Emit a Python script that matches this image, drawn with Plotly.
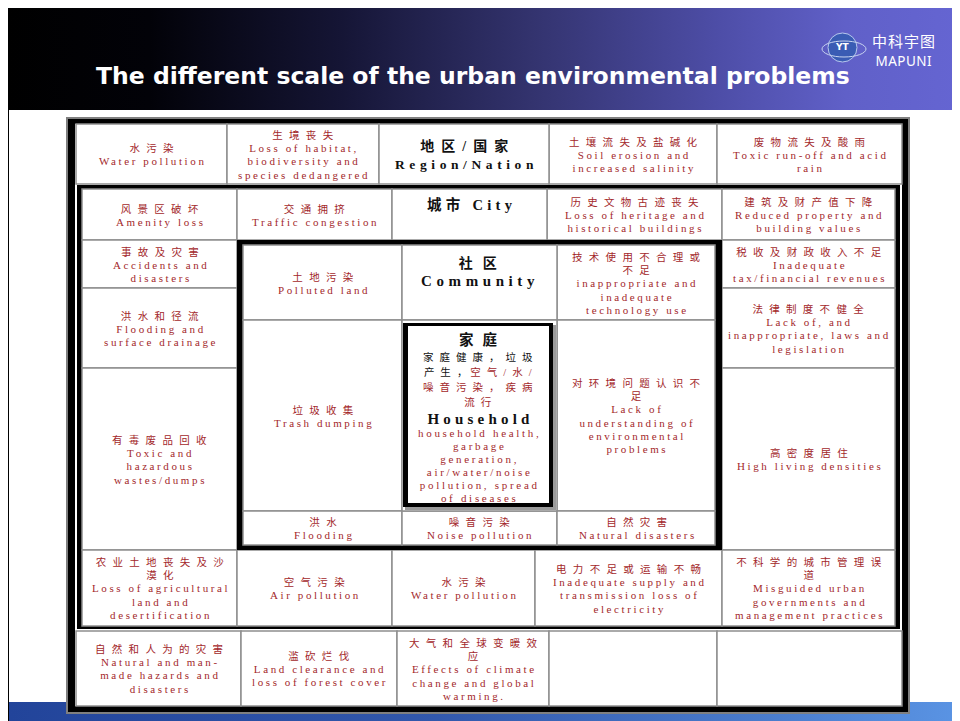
import plotly.graph_objects as go

# ---------------- text data ----------------
title_text = "The different scale of the urban environmental problems"
logo_cn = "中科宇图"
logo_en = "MAPUNI"
logo_mark = "YT"

region_header = ["地区/国家", "Region/Nation"]
city_header = "城市 City"
community_header = ["社区", "Community"]
household_header = ["家庭", "Household"]

region_cn = [["水污染"], ["生境丧失"], ["土壤流失及盐碱化"], ["废物流失及酸雨"],
             ["自然和人为的灾害"], ["滥砍烂伐"], ["大气和全球变暖效", "应"], [], []]
region_en = [["Water pollution"],
             ["Loss of habitat,", "biodiversity and", "species dedangered"],
             ["Soil erosion and", "increased salinity"],
             ["Toxic run-off and acid", "rain"],
             ["Natural and man-", "made hazards and", "disasters"],
             ["Land clearance and", "loss of forest cover"],
             ["Effects of climate", "change and global", "warming."], [], []]

city_cn = [["风景区破坏"], ["交通拥挤"], ["历史文物古迹丧失"], ["建筑及财产值下降"],
           ["事故及灾害"], ["洪水和径流"], ["有毒废品回收"],
           ["税收及财政收入不足"], ["法律制度不健全"], ["高密度居住"],
           ["农业土地丧失及沙", "漠化"], ["空气污染"], ["水污染"], ["电力不足或运输不畅"],
           ["不科学的城市管理误", "道"]]
city_en = [["Amenity loss"], ["Traffic congestion"],
           ["Loss of heritage and", "historical buildings"],
           ["Reduced property and", "building values"],
           ["Accidents and", "disasters"], ["Flooding and", "surface drainage"],
           ["Toxic and", "hazardous", "wastes/dumps"],
           ["Inadequate", "tax/financial revenues"],
           ["Lack of, and", "inappropriate, laws and", "legislation"],
           ["High living densities"],
           ["Loss of agricultural", "land and", "desertification"],
           ["Air pollution"], ["Water pollution"],
           ["Inadequate supply and", "transmission loss of", "electricity"],
           ["Misguided urban", "governments and", "management practices"]]

community_cn = [["土地污染"], ["技术使用不合理或", "不足"], ["垃圾收集"], ["对环境问题认识不", "足"],
                ["洪水"], ["噪音污染"], ["自然灾害"]]
community_en = [["Polluted land"], ["inappropriate and", "inadequate", "technology use"],
                ["Trash dumping"], ["Lack of", "understanding of", "environmental", "problems"],
                ["Flooding"], ["Noise pollution"], ["Natural disasters"]]

household_cn_black = ["家庭健康，垃圾", "产生，", "", ""]
household_cn_red = ["", "空气/水/", "噪音污染，疾病", "流行"]
household_en = ["household health,", "garbage", "generation,", "air/water/noise",
                "pollution, spread", "of diseases"]

# ---------------- layout geometry (page pixels) ----------------
region_boxes = [(76, 124, 227, 184), (227, 124, 379, 184), (549, 124, 717, 184), (717, 124, 902, 184),
                (76, 631, 241, 706), (241, 631, 397, 706), (397, 631, 549, 706), (549, 631, 717, 706),
                (717, 631, 902, 706)]
region_header_box = (379, 124, 549, 184)
city_boxes = [(82, 189, 237, 240), (237, 189, 392, 240), (547, 189, 722, 240), (722, 189, 895, 240),
              (82, 240, 237, 288), (82, 288, 237, 368), (82, 368, 237, 550),
              (722, 240, 895, 288), (722, 288, 895, 368), (722, 368, 895, 550),
              (82, 550, 237, 626), (237, 550, 392, 626), (392, 550, 535, 626), (535, 550, 722, 626),
              (722, 550, 895, 626)]
city_header_box = (392, 189, 547, 240)
community_boxes = [(243, 245, 402, 320), (557, 245, 715, 320), (243, 320, 402, 511), (557, 320, 715, 511),
                   (243, 511, 402, 545), (402, 511, 557, 545), (557, 511, 715, 545)]
community_header_box = (402, 245, 557, 320)
household_cell = (402, 320, 557, 511)

W, H = 960, 721
OFF = 8  # default page body margin
RED = "#a3282b"
BLACK = "#111111"
CELL_LINE = "#8e8e8e"
FONT = "Liberation Serif, Noto Sans CJK SC, serif"
EN_SP, EN_FS = 2.6, 11
CN_SP, CN_FS = 6.3, 10.5
PITCH = 13.2

fig = go.Figure()

# header gradient band
fig.add_trace(go.Scatter(
    x=[7, 960, 960, 7, 7], y=[7, 7, 110, 110, 7], mode="lines", fill="toself",
    line=dict(width=0), hoverinfo="skip", showlegend=False,
    fillgradient=dict(type="horizontal",
                      colorscale=[[0, "#000000"], [0.15, "#020208"], [0.35, "#151535"],
                                  [0.55, "#33336e"], [0.75, "#4e4ea8"], [0.88, "#6060c8"],
                                  [1, "#6565d2"]])))
# bottom gradient band
fig.add_trace(go.Scatter(
    x=[9, 960, 960, 9, 9], y=[702, 702, 721, 721, 702], mode="lines", fill="toself",
    line=dict(width=0), hoverinfo="skip", showlegend=False,
    fillgradient=dict(type="horizontal",
                      colorscale=[[0, "#22449a"], [0.45, "#3258ac"], [0.8, "#4a7ccc"],
                                  [1, "#5a94e4"]])))

shapes = []


def rect(x0, y0, x1, y1, fill, line_color=None, lw=0):
    shapes.append(dict(type="rect", xref="x", yref="y", x0=x0, y0=y0, x1=x1, y1=y1,
                       fillcolor=fill, line=dict(width=lw, color=line_color or fill)))


def frame(outer, inner):
    rect(*outer, "#000000")
    rect(*inner, "#ffffff")


def cell(box):
    rect(*box, "#ffffff", CELL_LINE, 1.5)


rect(7, 110, 9, 721, "#000000")
rect(66, 117, 910, 714, "#7f7f7f")
frame((68, 119, 908, 712), (75, 124, 902, 706))
for b in region_boxes + [region_header_box]:
    cell(b)
frame((77, 185, 900, 629), (82, 189, 895, 625))
for b in city_boxes + [city_header_box]:
    cell(b)
frame((237, 240, 722, 550), (243, 245, 715, 545))
for b in community_boxes + [community_header_box, household_cell]:
    cell(b)
rect(405, 325, 556, 510, "#9a9a9a")
frame((403, 323, 553, 507), (408, 326, 549, 503))

# logo globe
shapes.append(dict(type="circle", xref="x", yref="y", x0=828, y0=33, x1=857, y1=62,
                   fillcolor="#3a5cb4", line=dict(color="#b8c8ee", width=1)))
shapes.append(dict(type="circle", xref="x", yref="y", x0=822, y0=41, x1=866, y1=57,
                   fillcolor="rgba(0,0,0,0)", line=dict(color="#c8d4f0", width=1)))

annotations = []


def line_html(text, fs, sp, color=None):
    """One line, letter-spaced (no trailing spacing after the last glyph)."""
    col = ";color:%s" % color if color else ""
    if sp and len(text) > 1:
        return ('<span style="font-size:%gpx;letter-spacing:%gpx%s">%s</span>'
                '<span style="font-size:%gpx%s">%s</span>') % (fs, sp, col, text[:-1], fs, col, text[-1])
    return '<span style="font-size:%gpx%s">%s</span>' % (fs, col, text)


def add_block(x, y, lines_html, pitch, color, bold=False, family=FONT):
    annotations.append(dict(
        x=x, y=y, xref="x", yref="y", text="<br>".join(lines_html), showarrow=False,
        xanchor="center", yanchor="middle", align="center",
        font=dict(family=family, size=pitch / 1.3, color=color,
                  weight="bold" if bold else "normal")))


def cell_text(box, cn_lines, en_lines):
    if not cn_lines and not en_lines:
        return
    x0, y0, x1, y1 = box
    parts = [line_html(t, CN_FS, CN_SP) for t in cn_lines] + [line_html(t, EN_FS, EN_SP) for t in en_lines]
    add_block((x0 + x1) / 2, (y0 + y1) / 2 + 0.5, parts, PITCH, RED)


for b, cn, en in zip(region_boxes, region_cn, region_en):
    cell_text(b, cn, en)
for b, cn, en in zip(city_boxes, city_cn, city_en):
    cell_text(b, cn, en)
for b, cn, en in zip(community_boxes, community_cn, community_en):
    cell_text(b, cn, en)

# headers
bx = region_header_box
add_block((bx[0] + bx[2]) / 2, (bx[1] + bx[3]) / 2 + 1,
          [line_html(region_header[0], 14, 7.0), line_html(region_header[1], 13.5, 4.6)],
          18, BLACK, bold=True)
bx = city_header_box
add_block((bx[0] + bx[2]) / 2, bx[1] + 15, [line_html(city_header, 14.5, 4.3)], 18, BLACK, bold=True)
bx = community_header_box
add_block((bx[0] + bx[2]) / 2 - 2, bx[1] + 27,
          [line_html(community_header[0], 14, 10), line_html(community_header[1], 15, 4.6)],
          18, BLACK, bold=True)

# household contents
hcx = 478
add_block(hcx, 339, [line_html(household_header[0], 14.5, 9)], 18, BLACK, bold=True)
cn_parts = []
for blk, red in zip(household_cn_black, household_cn_red):
    full = blk + red
    if blk and red:
        cn_parts.append(line_html(blk, CN_FS, 6.0, BLACK) + " " + line_html(red, CN_FS, 6.0, RED))
    elif blk:
        cn_parts.append(line_html(full, CN_FS, 6.0, BLACK))
    else:
        cn_parts.append(line_html(full, CN_FS, 6.0, RED))
add_block(hcx, 379.5, cn_parts, 15, RED)
hh_parts = ['<b>' + line_html(household_header[1], 15, 4.2, BLACK) + '</b>'] + \
           [line_html(t, EN_FS, 2.7, RED) for t in household_en]
add_block(hcx, 457.5, hh_parts, 13, RED)

# title and logo
annotations.append(dict(x=473, y=76, xref="x", yref="y", text="<b>%s</b>" % title_text,
                        showarrow=False, xanchor="center", yanchor="middle",
                        font=dict(family="DejaVu Sans", size=23.5, color="#ffffff")))
add_block(903, 50, [line_html(logo_cn, 15, 1), line_html(logo_en, 13.5, 0.5)], 18.5, "#ffffff",
          family="Noto Sans, Noto Sans CJK SC")
annotations.append(dict(x=842, y=47, xref="x", yref="y", text="<b>%s</b>" % logo_mark,
                        showarrow=False, font=dict(family="DejaVu Sans", size=9, color="#ffffff")))

fig.update_layout(
    width=W - OFF, height=H - OFF, autosize=False,
    margin=dict(l=0, r=0, t=0, b=0, pad=0),
    paper_bgcolor="#ffffff", plot_bgcolor="#ffffff",
    xaxis=dict(range=[OFF, W], visible=False, fixedrange=True),
    yaxis=dict(range=[H, OFF], visible=False, fixedrange=True),
    shapes=shapes, annotations=annotations, showlegend=False,
)

fig.write_html("out.html", config={"displayModeBar": False, "staticPlot": True})
